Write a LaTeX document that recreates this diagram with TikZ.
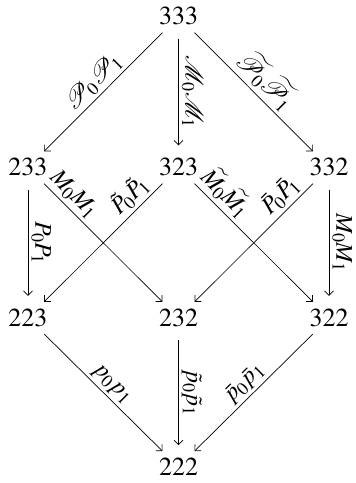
\documentclass[tikz,border=0pt]{standalone}
\usepackage{mathptmx}
\usepackage{mathrsfs}
\DeclareMathSizes{24}{24}{18}{14}
\DeclareMathSizes{26}{26}{19}{15}
\usetikzlibrary{arrows.meta}
\begin{document}
\begin{tikzpicture}[x=1pt,y=-1pt,
  v/.style={font=\fontsize{26}{30}\selectfont, inner xsep=2pt, inner ysep=7pt, execute at begin node=$, execute at end node=$},
  ar/.style={-{Straight Barb[length=4.5pt,width=9pt]}, line width=0.7pt},
  vert/.style={shorten <=6pt, shorten >=6pt},
  lab/.style={font=\fontsize{24}{28}\selectfont, sloped, above, inner sep=3pt}]
\useasboundingbox (0,0) rectangle (356,483);
\node[v] (n333) at (178.5,16.5) {333};
\node[v] (n233) at (28,167.5) {233};
\node[v] (n323) at (178.5,167.5) {323};
\node[v] (n332) at (329,167.5) {332};
\node[v] (n223) at (28,318) {223};
\node[v] (n232) at (178.5,318) {232};
\node[v] (n322) at (329,318) {322};
\node[v] (n222) at (178.5,467) {222};
\draw[ar] (n333) -- node[lab]{$\mathscr{P}_0\mathscr{P}_1$} (n233);
\draw[ar,vert] (n333) -- node[lab]{$\mathscr{M}_0\mathscr{M}_1$} (n323);
\draw[ar] (n333) -- node[lab]{$\widetilde{\mathscr{P}}_0\widetilde{\mathscr{P}}_1$} (n332);
\draw[ar,vert] (n233) -- node[lab]{$P_0P_1$} (n223);
\draw[ar] (n233) -- node[lab,pos=0.17]{$M_0M_1$} (n232);
\draw[ar] (n323) -- node[lab,pos=0.19]{$\tilde P_0\tilde P_1$} (n223);
\draw[ar] (n323) -- node[lab,pos=0.17]{$\widetilde{M}_0\widetilde{M}_1$} (n322);
\draw[ar] (n332) -- node[lab,pos=0.19]{$\bar P_0\bar P_1$} (n232);
\draw[ar,vert] (n332) -- node[lab]{$M_0M_1$} (n322);
\draw[ar] (n223) -- node[lab]{$p_0p_1$} (n222);
\draw[ar,vert] (n232) -- node[lab]{$\tilde p_0\tilde p_1$} (n222);
\draw[ar] (n322) -- node[lab]{$\bar p_0\bar p_1$} (n222);
\end{tikzpicture}
\end{document}
